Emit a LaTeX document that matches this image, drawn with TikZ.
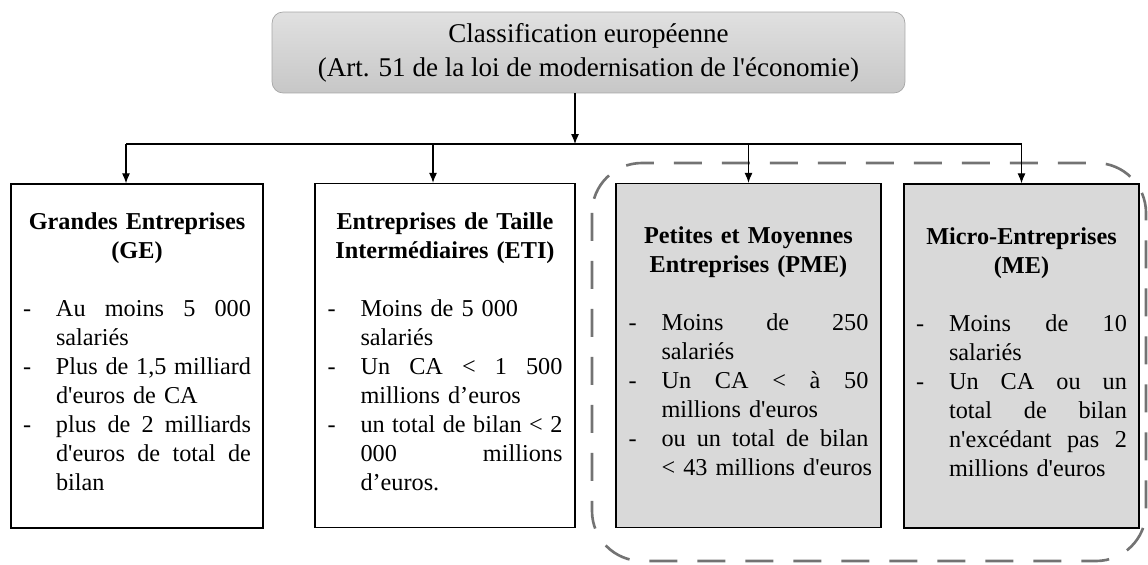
\documentclass[tikz,border=0pt]{standalone}
\usepackage{fontspec}
\setmainfont{Liberation Serif}[Ligatures=TeXOff]
\usetikzlibrary{arrows.meta}

\newcommand{\jl}[1]{\makebox[\hsize][s]{\spaceskip=0.25em plus 1fil\relax #1}}
\newcommand{\titre}[1]{{\centering\bfseries #1\par}\vspace{\baselineskip}}
\newcommand{\liste}[2]{\noindent\begin{tabular}[t]{@{}p{0.66cm}@{}p{#1}@{}}#2\end{tabular}}

\begin{document}
\begin{tikzpicture}[x=0.02cm,y=-0.02cm,
    bloc/.style={draw=black,line width=0.8pt,minimum height=6.88cm,inner sep=0pt,
        font=\fontsize{13.8}{16.5}\selectfont},
    gris/.style={fill=black!15},
    fleche/.style={line width=0.6pt,-{Latex[length=0.2cm,width=0.16cm]}},
    cadre/.style={draw=black!55,line width=1.5pt,dash pattern=on 0.56cm off 0.4cm,
        rounded corners=1cm}]
    \useasboundingbox (0,0) rectangle (1148,564);

    % Classification
    \node[draw=black!35,rounded corners=0.22cm,top color=black!12,bottom color=black!22,
        minimum width=12.66cm,minimum height=1.62cm,align=center,
        font=\fontsize{15.4}{19.3}\selectfont] (classif) at (588.5,52.5)
        {Classification européenne\\(Art. 51 de la loi de modernisation de l'économie)};

    % PME et ME
    \draw[cadre] (592,163) rectangle (1146,561);

    % Categories
    \node[bloc,minimum width=5.04cm,text width=4.56cm] (ge) at (137,356) {%
        \titre{Grandes Entreprises\\(GE)}%
        \liste{3.9cm}{- & \jl{Au moins 5 000}\newline salariés\\
            - & \jl{Plus de 1,5 milliard}\newline d'euros de CA\\
            - & \jl{plus de 2 milliards}\newline \jl{d'euros de total de}\newline bilan}};
    \node[bloc,minimum width=5.2cm,text width=4.7cm] (eti) at (445,355.5) {%
        \titre{Entreprises de Taille\\Intermédiaires (ETI)}%
        \liste{4.04cm}{- & Moins de 5 000\newline salariés\\
            - & \jl{Un CA < 1 500}\newline millions d’euros\\
            - & \jl{un total de bilan < 2}\newline \jl{000 millions}\newline d’euros.}};
    \node[bloc,gris,minimum width=5.3cm,text width=4.8cm] (pme) at (748.5,355.5) {%
        \titre{Petites et Moyennes\\Entreprises (PME)}%
        \liste{4.14cm}{- & \jl{Moins de 250}\newline salariés\\
            - & \jl{Un CA < à 50}\newline millions d'euros\\
            - & \jl{ou un total de bilan}\newline \mbox{< 43 millions d'euros}}};
    \node[bloc,gris,minimum width=4.7cm,text width=4.22cm] (me) at (1021.5,356) {%
        \titre{Micro-Entreprises\\(ME)}%
        \liste{3.56cm}{- & \jl{Moins de 10}\newline salariés\\
            - & \jl{Un CA ou un}\newline \jl{total de bilan}\newline \jl{n'excédant pas 2}\newline millions d'euros}};

    % Connectors
    \coordinate (bus) at (575,144);
    \draw[fleche] (classif.south -| bus) -- (bus);
    \draw[line width=0.6pt] ([xshift=-0.22cm]ge.north |- bus) -- (me.north |- bus);
    \foreach \n/\d in {ge/-0.22,eti/-0.24,pme/0,me/0}
        \draw[fleche] ([xshift=\d cm]\n.north |- bus) -- ([xshift=\d cm]\n.north);
\end{tikzpicture}
\end{document}
